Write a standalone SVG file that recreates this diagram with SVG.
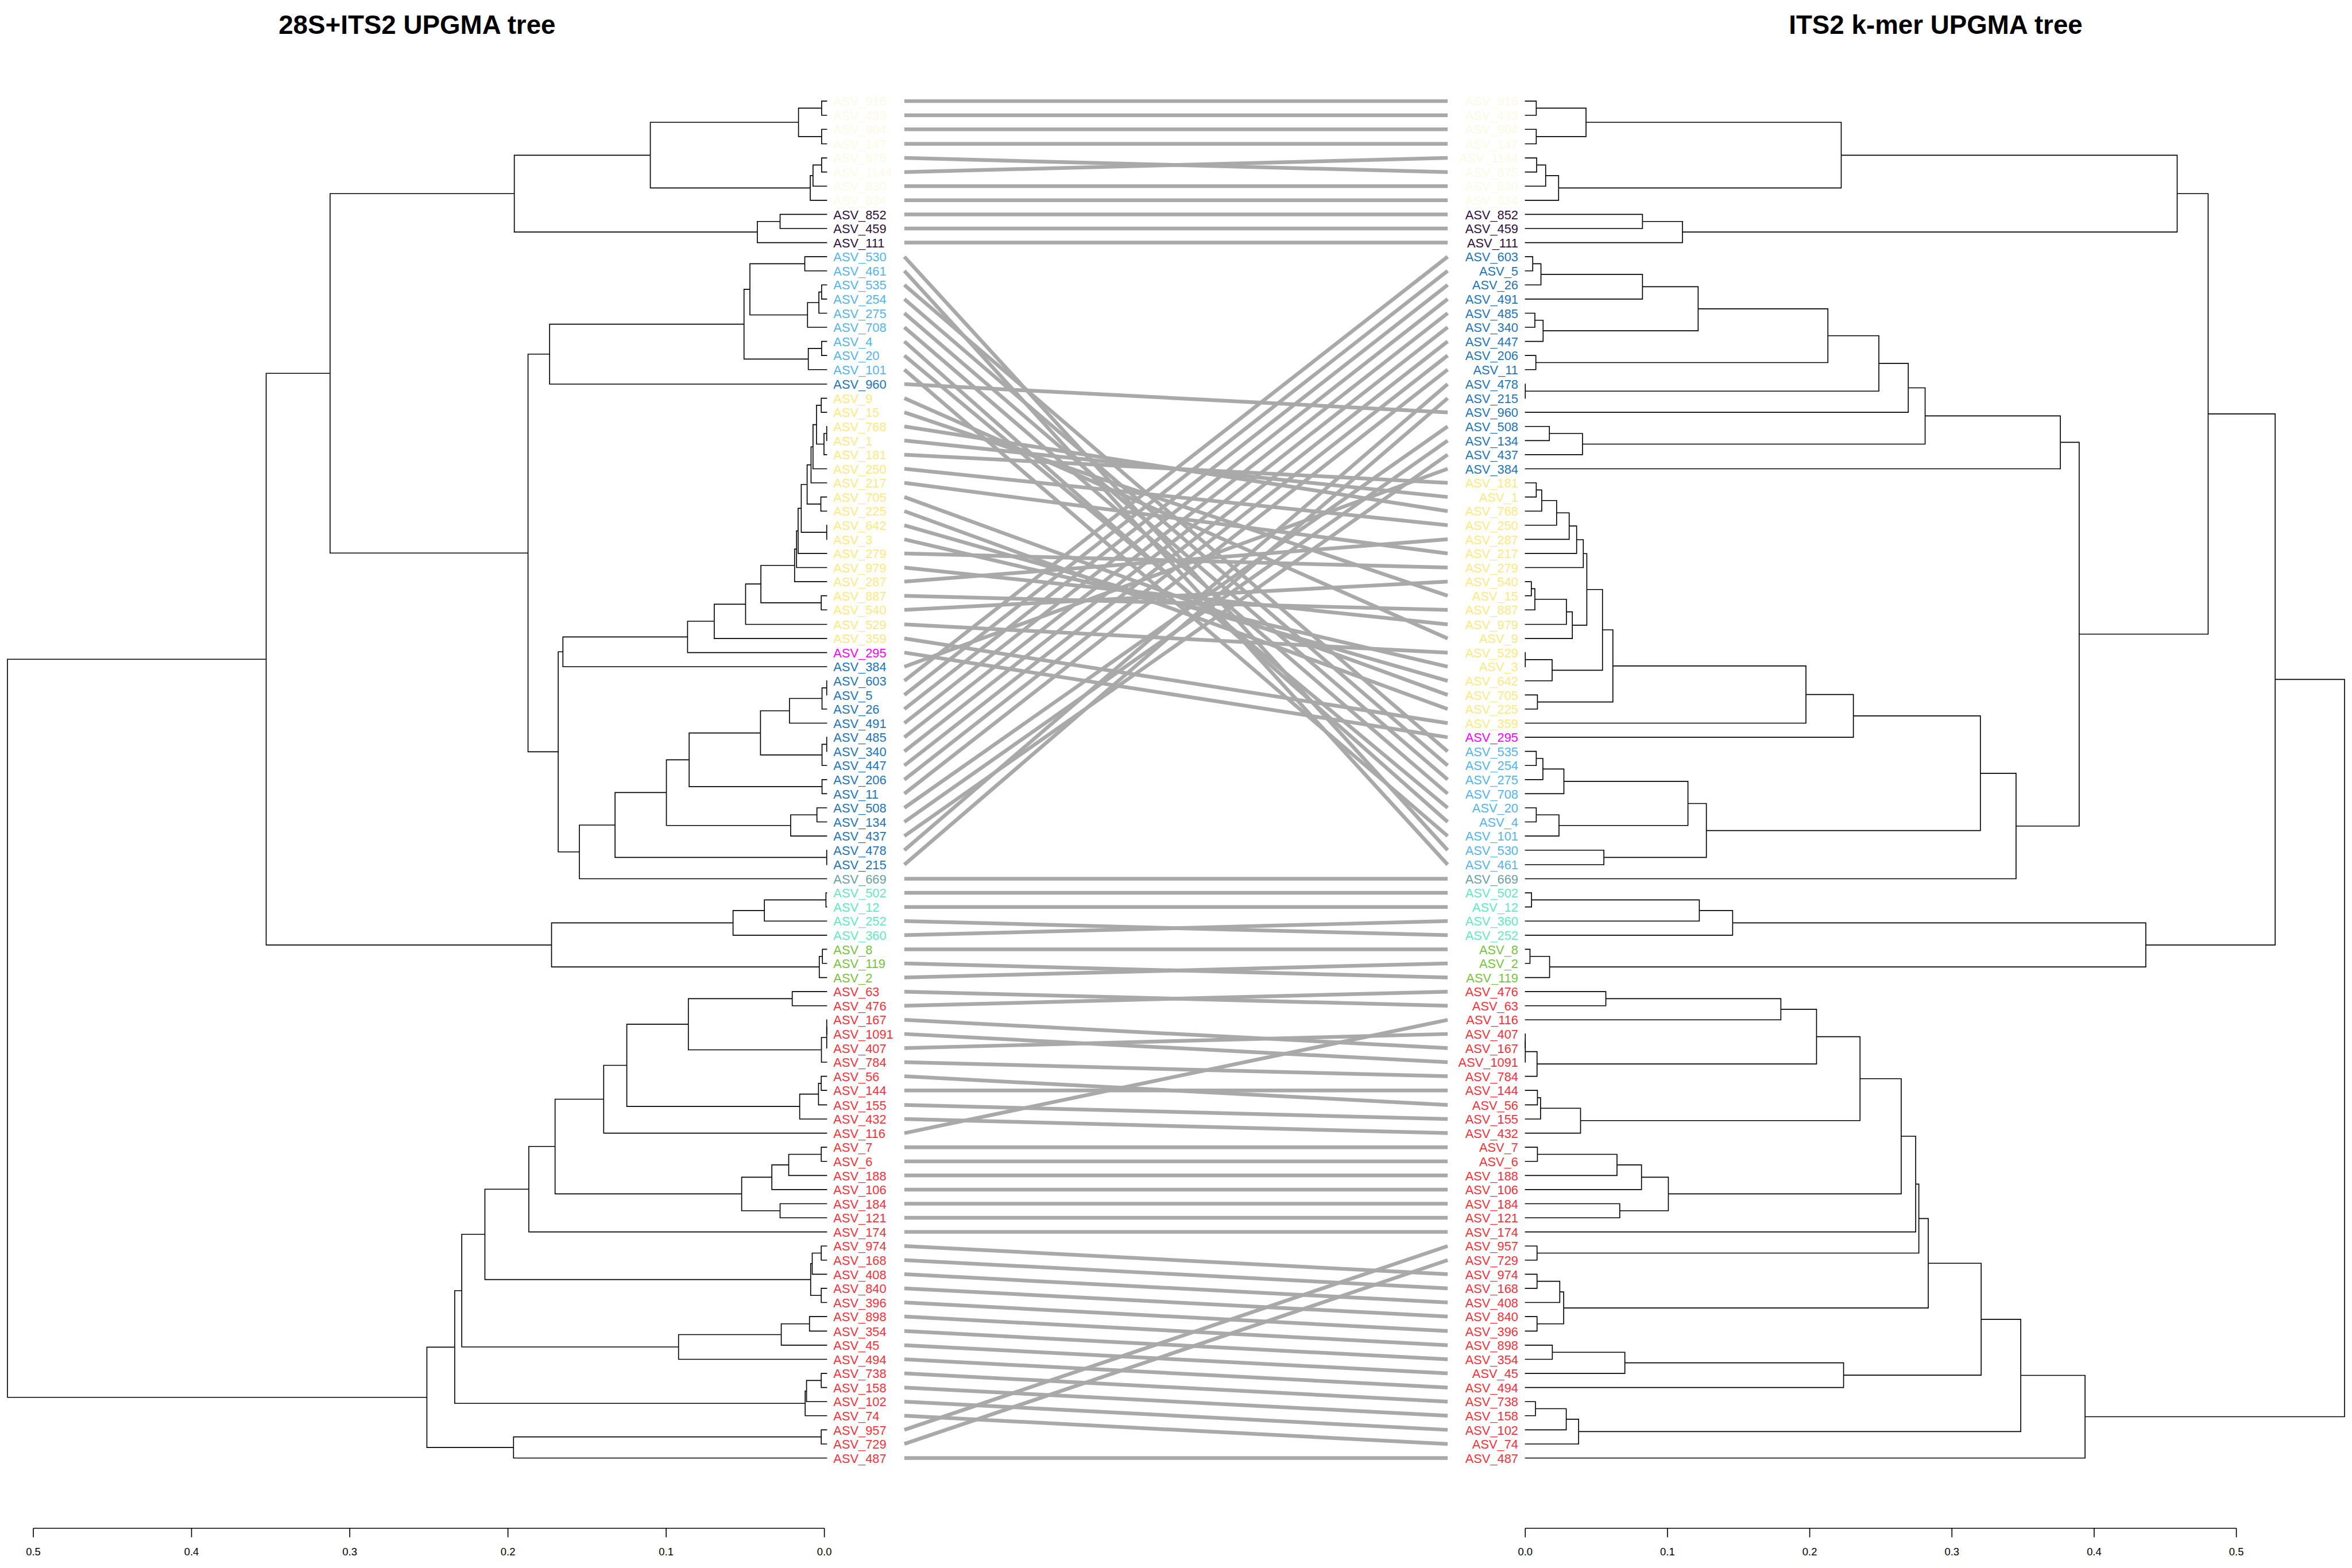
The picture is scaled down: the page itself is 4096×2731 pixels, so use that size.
<svg xmlns="http://www.w3.org/2000/svg" width="4096" height="2731" viewBox="0 0 4096 2731">
<style>
.t{fill:none;stroke:#000;stroke-width:2.4}
.c{stroke:#A9A9A9;stroke-width:9.5;fill:none}
.l{font-family:"Liberation Sans",Arial,sans-serif;font-size:32px}
.r{text-anchor:end}
.ax{font-family:"Liberation Sans",Arial,sans-serif;font-size:27px;text-anchor:middle}
.ti{font-family:"Liberation Sans",Arial,sans-serif;font-size:67px;font-weight:bold;text-anchor:middle}
.p{fill:#FAFBE4}.d{fill:#30103E}.lb{fill:#56B4E9}.db{fill:#2474B5}.y{fill:#FDE983}.m{fill:#FF00FF}.g2{fill:#6E9FA3}.tl{fill:#66E6C3}.gr{fill:#7AC143}.rd{fill:#F5323C}
</style>
<rect width="4096" height="2731" fill="#fff"/>
<g transform="scale(0.682667)">
<g id="titles">
<text class="ti" x="1064" y="87">28S+ITS2 UPGMA tree</text>
<text class="ti" x="4938" y="87">ITS2 k-mer UPGMA tree</text>
</g>
<g id="left-tree" class="t">
<path d="M2110 258H2096V294H2110"/>
<path d="M2110 330H2096V367H2110"/>
<path d="M2096 276H2037V348.5H2096"/>
<path d="M2110 403H2096V439H2110"/>
<path d="M2096 421H2074V475H2110"/>
<path d="M2074 448H2067V511H2110"/>
<path d="M2037 312H1659V479.5H2067"/>
<path d="M2110 547H1990V583H2110"/>
<path d="M1990 565H1932V619H2110"/>
<path d="M1659 396H1312V592H1932"/>
<path d="M2110 655H2053V691H2110"/>
<path d="M2110 727H2096V763H2110"/>
<path d="M2096 745H2089V799H2110"/>
<path d="M2089 772H2060V835H2110"/>
<path d="M2053 673H1913V803.5H2060"/>
<path d="M2110 871H2096V907H2110"/>
<path d="M2096 889H2062V943H2110"/>
<path d="M1913 738H1898V916H2062"/>
<path d="M1898 827H1402V980H2110"/>
<path d="M2110 1016H2095V1052H2110"/>
<path d="M2110 1088H2109V1124H2110"/>
<path d="M2109 1106H2102V1160H2110"/>
<path d="M2095 1034H2083V1133H2102"/>
<path d="M2083 1083.5H2074V1196H2110"/>
<path d="M2074 1140H2069V1232H2110"/>
<path d="M2110 1268H2094V1304H2110"/>
<path d="M2069 1186H2059V1286H2094"/>
<path d="M2110 1340H2109V1376H2110"/>
<path d="M2059 1236H2044V1358H2109"/>
<path d="M2044 1297H2036V1412H2110"/>
<path d="M2036 1354.5H2032V1448H2110"/>
<path d="M2032 1401H2027V1484H2110"/>
<path d="M2110 1520H2095V1556H2110"/>
<path d="M2027 1442.5H1941V1538H2095"/>
<path d="M1941 1490H1902V1593H2110"/>
<path d="M1902 1541.5H1822V1629H2110"/>
<path d="M1822 1585H1754V1665H2110"/>
<path d="M1754 1625H1436V1701H2110"/>
<path d="M2110 1737H2109V1773H2110"/>
<path d="M2109 1755H2097V1809H2110"/>
<path d="M2097 1782H2014V1845H2110"/>
<path d="M2110 1881H2109V1917H2110"/>
<path d="M2109 1899H2097V1953H2110"/>
<path d="M2014 1813.5H1940V1926H2097"/>
<path d="M2110 1989H2097V2025H2110"/>
<path d="M1940 1870H1758V2007H2097"/>
<path d="M2110 2061H2084V2097H2110"/>
<path d="M2084 2079H2017V2133H2110"/>
<path d="M1758 1938.5H1700V2106H2017"/>
<path d="M2110 2169H2109V2206H2110"/>
<path d="M1700 2022H1569V2187.5H2109"/>
<path d="M1569 2105H1478V2242H2110"/>
<path d="M1436 1663H1424V2173.5H1478"/>
<path d="M1402 903.5H1347V1918H1424"/>
<path d="M1312 494H842V1411H1347"/>
<path d="M2110 2278H2107V2314H2110"/>
<path d="M2107 2296H1950V2350H2110"/>
<path d="M1950 2323H1870V2386H2110"/>
<path d="M2110 2422H2098V2458H2110"/>
<path d="M2098 2440H2090V2494H2110"/>
<path d="M1870 2354.5H1407V2467H2090"/>
<path d="M842 952.5H679V2411H1407"/>
<path d="M2110 2530H2021V2566H2110"/>
<path d="M2110 2602H2109V2638H2110"/>
<path d="M2109 2620H2109V2674H2110"/>
<path d="M2109 2647H2095.5V2710H2110"/>
<path d="M2021 2548H1756V2678.5H2095.5"/>
<path d="M2110 2746H2095V2782H2110"/>
<path d="M2095 2764H2088V2819H2110"/>
<path d="M2088 2791.5H2040V2855H2110"/>
<path d="M1756 2613H1599V2823H2040"/>
<path d="M1599 2718H1540V2891H2110"/>
<path d="M2110 2927H2095V2963H2110"/>
<path d="M2095 2945H2012V2999H2110"/>
<path d="M2012 2972H1969V3035H2110"/>
<path d="M2110 3071H1990V3107H2110"/>
<path d="M1969 3003.5H1892V3089H1990"/>
<path d="M1540 2804.5H1416V3046H1892"/>
<path d="M1416 2925H1349V3143H2110"/>
<path d="M2110 3179H2095V3215H2110"/>
<path d="M2095 3197H2072V3251H2110"/>
<path d="M2110 3287H2095V3323H2110"/>
<path d="M2072 3224H2068V3305H2095"/>
<path d="M1349 3034H1237V3264.5H2068"/>
<path d="M2110 3359H2065V3396H2110"/>
<path d="M2065 3377.5H1993V3432H2110"/>
<path d="M1993 3405H1731V3468H2110"/>
<path d="M1237 3149H1178V3436.5H1731"/>
<path d="M2110 3504H2095V3540H2110"/>
<path d="M2095 3522H2057.5V3576H2110"/>
<path d="M2057.5 3549H2054V3612H2110"/>
<path d="M1178 3293H1160V3580.5H2054"/>
<path d="M2110 3648H2095V3684H2110"/>
<path d="M2095 3666H1310V3720H2110"/>
<path d="M1160 3437H1089V3693H1310"/>
<path d="M679 1682H19V3565H1089"/>
</g>
<g id="right-tree" class="t">
<path d="M3890 258H3919V294H3890"/>
<path d="M3890 330H3919V367H3890"/>
<path d="M3919 276H4046V348.5H3919"/>
<path d="M3890 403H3920V439H3890"/>
<path d="M3920 421H3943V475H3890"/>
<path d="M3943 448H3976V511H3890"/>
<path d="M4046 312H4697V479.5H3976"/>
<path d="M3890 547H4190V583H3890"/>
<path d="M4190 565H4292V619H3890"/>
<path d="M4697 396H5554V592H4292"/>
<path d="M3890 655H3910V691H3890"/>
<path d="M3910 673H3931V727H3890"/>
<path d="M3931 700H4190V763H3890"/>
<path d="M3890 799H3915.5V835H3890"/>
<path d="M3915.5 817H3936.5V871H3890"/>
<path d="M4190 731.5H4332V844H3936.5"/>
<path d="M3890 907H3918V943H3890"/>
<path d="M4332 788H4663V925H3918"/>
<path d="M3890 980H3891V1016H3890"/>
<path d="M4663 856.5H4793V998H3891"/>
<path d="M4793 927H4868V1052H3890"/>
<path d="M3890 1088H3952.5V1124H3890"/>
<path d="M3952.5 1106H4037V1160H3890"/>
<path d="M4868 989.5H4911V1133H4037"/>
<path d="M4911 1061H5256V1196H3890"/>
<path d="M3890 1232H3919V1268H3890"/>
<path d="M3919 1250H3933V1304H3890"/>
<path d="M3933 1277H3971V1340H3890"/>
<path d="M3971 1308.5H4003V1376H3890"/>
<path d="M4003 1342H4022V1412H3890"/>
<path d="M4022 1377H4039V1448H3890"/>
<path d="M3890 1484H3906.5V1520H3890"/>
<path d="M3906.5 1502H3915.5V1556H3890"/>
<path d="M3915.5 1529H3996V1593H3890"/>
<path d="M3996 1561H4011V1629H3890"/>
<path d="M4039 1412.5H4048V1595H4011"/>
<path d="M3890 1665H3891V1701H3890"/>
<path d="M3891 1683H3959.5V1737H3890"/>
<path d="M4048 1504H4088V1710H3959.5"/>
<path d="M3890 1773H3922V1809H3890"/>
<path d="M4088 1607H4114.5V1791H3922"/>
<path d="M4114.5 1699H4607V1845H3890"/>
<path d="M4607 1772H4728V1881H3890"/>
<path d="M3890 1917H3919V1953H3890"/>
<path d="M3919 1935H3936V1989H3890"/>
<path d="M3936 1962H3989.5V2025H3890"/>
<path d="M3890 2061H3919V2097H3890"/>
<path d="M3919 2079H3977V2133H3890"/>
<path d="M3989.5 1993.5H4306V2106H3977"/>
<path d="M3890 2169H4091.5V2206H3890"/>
<path d="M4306 2050H4353V2187.5H4091.5"/>
<path d="M4728 1826.5H5052V2119H4353"/>
<path d="M5052 1973H5143V2242H3890"/>
<path d="M5256 1128.5H5304V2107.5H5143"/>
<path d="M5554 494H5633V1618H5304"/>
<path d="M3890 2278H3907V2314H3890"/>
<path d="M3907 2296H4335V2350H3890"/>
<path d="M4335 2323H4420V2386H3890"/>
<path d="M3890 2422H3903V2458H3890"/>
<path d="M3903 2440H3953V2494H3890"/>
<path d="M4420 2354.5H5474V2467H3953"/>
<path d="M5633 1056H5804V2411H5474"/>
<path d="M3890 2530H4096.5V2566H3890"/>
<path d="M4096.5 2548H4543V2602H3890"/>
<path d="M3890 2638H3891V2674H3890"/>
<path d="M3891 2656H3891V2710H3890"/>
<path d="M3891 2683H3921V2746H3890"/>
<path d="M4543 2575H4634V2714.5H3921"/>
<path d="M3890 2782H3922V2819H3890"/>
<path d="M3922 2800.5H3930V2855H3890"/>
<path d="M3930 2827.5H4032V2891H3890"/>
<path d="M4634 2645H4745V2859H4032"/>
<path d="M3890 2927H3922V2963H3890"/>
<path d="M3922 2945H4125V2999H3890"/>
<path d="M4125 2972H4187.5V3035H3890"/>
<path d="M3890 3071H4132V3107H3890"/>
<path d="M4187.5 3003.5H4256V3089H4132"/>
<path d="M4745 2752H4850V3046H4256"/>
<path d="M4850 2899H4887V3143H3890"/>
<path d="M3890 3179H3921V3215H3890"/>
<path d="M4887 3021H4895V3197H3921"/>
<path d="M3890 3251H3921V3287H3890"/>
<path d="M3921 3269H3979V3323H3890"/>
<path d="M3890 3359H3921V3396H3890"/>
<path d="M3979 3296H3989V3377.5H3921"/>
<path d="M4895 3109H4919V3337H3989"/>
<path d="M3890 3432H3960V3468H3890"/>
<path d="M3960 3450H4145V3504H3890"/>
<path d="M4145 3477H4703V3540H3890"/>
<path d="M4919 3223H5054V3508.5H4703"/>
<path d="M3890 3576H3917V3612H3890"/>
<path d="M3917 3594H3995.5V3648H3890"/>
<path d="M3995.5 3621H4027V3684H3890"/>
<path d="M5054 3366H5155V3652.5H4027"/>
<path d="M5155 3509H5319V3720H3890"/>
<path d="M5804 1733.5H5981V3614.5H5319"/>
</g>
<g id="connectors" class="c">
<path d="M2307 258L3693 258"/><path d="M2307 294L3693 294"/><path d="M2307 330L3693 330"/><path d="M2307 367L3693 367"/>
<path d="M2307 403L3693 439"/><path d="M2307 439L3693 403"/><path d="M2307 475L3693 475"/><path d="M2307 511L3693 511"/>
<path d="M2307 547L3693 547"/><path d="M2307 583L3693 583"/><path d="M2307 619L3693 619"/>
<path d="M2307 655L3693 2169"/><path d="M2307 691L3693 2206"/><path d="M2307 727L3693 1917"/><path d="M2307 763L3693 1953"/>
<path d="M2307 799L3693 1989"/><path d="M2307 835L3693 2025"/><path d="M2307 871L3693 2097"/><path d="M2307 907L3693 2061"/>
<path d="M2307 943L3693 2133"/><path d="M2307 980L3693 1052"/>
<path d="M2307 1016L3693 1629"/><path d="M2307 1052L3693 1520"/><path d="M2307 1088L3693 1304"/><path d="M2307 1124L3693 1268"/>
<path d="M2307 1160L3693 1232"/><path d="M2307 1196L3693 1340"/><path d="M2307 1232L3693 1412"/><path d="M2307 1268L3693 1773"/>
<path d="M2307 1304L3693 1809"/><path d="M2307 1340L3693 1737"/><path d="M2307 1376L3693 1701"/><path d="M2307 1412L3693 1448"/>
<path d="M2307 1448L3693 1593"/><path d="M2307 1484L3693 1376"/><path d="M2307 1520L3693 1556"/><path d="M2307 1556L3693 1484"/>
<path d="M2307 1593L3693 1665"/><path d="M2307 1629L3693 1845"/><path d="M2307 1665L3693 1881"/><path d="M2307 1701L3693 1196"/>
<path d="M2307 1737L3693 655"/><path d="M2307 1773L3693 691"/><path d="M2307 1809L3693 727"/><path d="M2307 1845L3693 763"/>
<path d="M2307 1881L3693 799"/><path d="M2307 1917L3693 835"/><path d="M2307 1953L3693 871"/><path d="M2307 1989L3693 907"/>
<path d="M2307 2025L3693 943"/><path d="M2307 2061L3693 1088"/><path d="M2307 2097L3693 1124"/><path d="M2307 2133L3693 1160"/>
<path d="M2307 2169L3693 980"/><path d="M2307 2206L3693 1016"/><path d="M2307 2242L3693 2242"/>
<path d="M2307 2278L3693 2278"/><path d="M2307 2314L3693 2314"/><path d="M2307 2350L3693 2386"/><path d="M2307 2386L3693 2350"/>
<path d="M2307 2422L3693 2422"/><path d="M2307 2458L3693 2494"/><path d="M2307 2494L3693 2458"/>
<path d="M2307 2530L3693 2566"/><path d="M2307 2566L3693 2530"/><path d="M2307 2602L3693 2674"/><path d="M2307 2638L3693 2710"/>
<path d="M2307 2674L3693 2638"/><path d="M2307 2710L3693 2746"/><path d="M2307 2746L3693 2819"/><path d="M2307 2782L3693 2782"/>
<path d="M2307 2819L3693 2855"/><path d="M2307 2855L3693 2891"/><path d="M2307 2891L3693 2602"/>
<path d="M2307 2927L3693 2927"/><path d="M2307 2963L3693 2963"/><path d="M2307 2999L3693 2999"/><path d="M2307 3035L3693 3035"/>
<path d="M2307 3071L3693 3071"/><path d="M2307 3107L3693 3107"/><path d="M2307 3143L3693 3143"/>
<path d="M2307 3179L3693 3251"/><path d="M2307 3215L3693 3287"/><path d="M2307 3251L3693 3323"/><path d="M2307 3287L3693 3359"/>
<path d="M2307 3323L3693 3396"/><path d="M2307 3359L3693 3432"/><path d="M2307 3396L3693 3468"/><path d="M2307 3432L3693 3504"/>
<path d="M2307 3468L3693 3540"/><path d="M2307 3504L3693 3576"/><path d="M2307 3540L3693 3612"/><path d="M2307 3576L3693 3648"/>
<path d="M2307 3612L3693 3684"/><path d="M2307 3648L3693 3179"/><path d="M2307 3684L3693 3215"/><path d="M2307 3720L3693 3720"/>
</g>
<g id="left-labels" class="l">
<text class="p" x="2126" y="270">ASV_916</text>
<text class="p" x="2126" y="306">ASV_433</text>
<text class="p" x="2126" y="342">ASV_904</text>
<text class="p" x="2126" y="379">ASV_147</text>
<text class="p" x="2126" y="415">ASV_875</text>
<text class="p" x="2126" y="451">ASV_1144</text>
<text class="p" x="2126" y="487">ASV_830</text>
<text class="p" x="2126" y="523">ASV_834</text>
<text class="d" x="2126" y="559">ASV_852</text>
<text class="d" x="2126" y="595">ASV_459</text>
<text class="d" x="2126" y="631">ASV_111</text>
<text class="lb" x="2126" y="667">ASV_530</text>
<text class="lb" x="2126" y="703">ASV_461</text>
<text class="lb" x="2126" y="739">ASV_535</text>
<text class="lb" x="2126" y="775">ASV_254</text>
<text class="lb" x="2126" y="811">ASV_275</text>
<text class="lb" x="2126" y="847">ASV_708</text>
<text class="lb" x="2126" y="883">ASV_4</text>
<text class="lb" x="2126" y="919">ASV_20</text>
<text class="lb" x="2126" y="955">ASV_101</text>
<text class="db" x="2126" y="992">ASV_960</text>
<text class="y" x="2126" y="1028">ASV_9</text>
<text class="y" x="2126" y="1064">ASV_15</text>
<text class="y" x="2126" y="1100">ASV_768</text>
<text class="y" x="2126" y="1136">ASV_1</text>
<text class="y" x="2126" y="1172">ASV_181</text>
<text class="y" x="2126" y="1208">ASV_250</text>
<text class="y" x="2126" y="1244">ASV_217</text>
<text class="y" x="2126" y="1280">ASV_705</text>
<text class="y" x="2126" y="1316">ASV_225</text>
<text class="y" x="2126" y="1352">ASV_642</text>
<text class="y" x="2126" y="1388">ASV_3</text>
<text class="y" x="2126" y="1424">ASV_279</text>
<text class="y" x="2126" y="1460">ASV_979</text>
<text class="y" x="2126" y="1496">ASV_287</text>
<text class="y" x="2126" y="1532">ASV_887</text>
<text class="y" x="2126" y="1568">ASV_540</text>
<text class="y" x="2126" y="1605">ASV_529</text>
<text class="y" x="2126" y="1641">ASV_359</text>
<text class="m" x="2126" y="1677">ASV_295</text>
<text class="db" x="2126" y="1713">ASV_384</text>
<text class="db" x="2126" y="1749">ASV_603</text>
<text class="db" x="2126" y="1785">ASV_5</text>
<text class="db" x="2126" y="1821">ASV_26</text>
<text class="db" x="2126" y="1857">ASV_491</text>
<text class="db" x="2126" y="1893">ASV_485</text>
<text class="db" x="2126" y="1929">ASV_340</text>
<text class="db" x="2126" y="1965">ASV_447</text>
<text class="db" x="2126" y="2001">ASV_206</text>
<text class="db" x="2126" y="2037">ASV_11</text>
<text class="db" x="2126" y="2073">ASV_508</text>
<text class="db" x="2126" y="2109">ASV_134</text>
<text class="db" x="2126" y="2145">ASV_437</text>
<text class="db" x="2126" y="2181">ASV_478</text>
<text class="db" x="2126" y="2218">ASV_215</text>
<text class="g2" x="2126" y="2254">ASV_669</text>
<text class="tl" x="2126" y="2290">ASV_502</text>
<text class="tl" x="2126" y="2326">ASV_12</text>
<text class="tl" x="2126" y="2362">ASV_252</text>
<text class="tl" x="2126" y="2398">ASV_360</text>
<text class="gr" x="2126" y="2434">ASV_8</text>
<text class="gr" x="2126" y="2470">ASV_119</text>
<text class="gr" x="2126" y="2506">ASV_2</text>
<text class="rd" x="2126" y="2542">ASV_63</text>
<text class="rd" x="2126" y="2578">ASV_476</text>
<text class="rd" x="2126" y="2614">ASV_167</text>
<text class="rd" x="2126" y="2650">ASV_1091</text>
<text class="rd" x="2126" y="2686">ASV_407</text>
<text class="rd" x="2126" y="2722">ASV_784</text>
<text class="rd" x="2126" y="2758">ASV_56</text>
<text class="rd" x="2126" y="2794">ASV_144</text>
<text class="rd" x="2126" y="2831">ASV_155</text>
<text class="rd" x="2126" y="2867">ASV_432</text>
<text class="rd" x="2126" y="2903">ASV_116</text>
<text class="rd" x="2126" y="2939">ASV_7</text>
<text class="rd" x="2126" y="2975">ASV_6</text>
<text class="rd" x="2126" y="3011">ASV_188</text>
<text class="rd" x="2126" y="3047">ASV_106</text>
<text class="rd" x="2126" y="3083">ASV_184</text>
<text class="rd" x="2126" y="3119">ASV_121</text>
<text class="rd" x="2126" y="3155">ASV_174</text>
<text class="rd" x="2126" y="3191">ASV_974</text>
<text class="rd" x="2126" y="3227">ASV_168</text>
<text class="rd" x="2126" y="3263">ASV_408</text>
<text class="rd" x="2126" y="3299">ASV_840</text>
<text class="rd" x="2126" y="3335">ASV_396</text>
<text class="rd" x="2126" y="3371">ASV_898</text>
<text class="rd" x="2126" y="3408">ASV_354</text>
<text class="rd" x="2126" y="3444">ASV_45</text>
<text class="rd" x="2126" y="3480">ASV_494</text>
<text class="rd" x="2126" y="3516">ASV_738</text>
<text class="rd" x="2126" y="3552">ASV_158</text>
<text class="rd" x="2126" y="3588">ASV_102</text>
<text class="rd" x="2126" y="3624">ASV_74</text>
<text class="rd" x="2126" y="3660">ASV_957</text>
<text class="rd" x="2126" y="3696">ASV_729</text>
<text class="rd" x="2126" y="3732">ASV_487</text>
</g>
<g id="right-labels" class="l r">
<text class="p" x="3873" y="270">ASV_916</text>
<text class="p" x="3873" y="306">ASV_433</text>
<text class="p" x="3873" y="342">ASV_904</text>
<text class="p" x="3873" y="379">ASV_147</text>
<text class="p" x="3873" y="415">ASV_1144</text>
<text class="p" x="3873" y="451">ASV_875</text>
<text class="p" x="3873" y="487">ASV_830</text>
<text class="p" x="3873" y="523">ASV_834</text>
<text class="d" x="3873" y="559">ASV_852</text>
<text class="d" x="3873" y="595">ASV_459</text>
<text class="d" x="3873" y="631">ASV_111</text>
<text class="db" x="3873" y="667">ASV_603</text>
<text class="db" x="3873" y="703">ASV_5</text>
<text class="db" x="3873" y="739">ASV_26</text>
<text class="db" x="3873" y="775">ASV_491</text>
<text class="db" x="3873" y="811">ASV_485</text>
<text class="db" x="3873" y="847">ASV_340</text>
<text class="db" x="3873" y="883">ASV_447</text>
<text class="db" x="3873" y="919">ASV_206</text>
<text class="db" x="3873" y="955">ASV_11</text>
<text class="db" x="3873" y="992">ASV_478</text>
<text class="db" x="3873" y="1028">ASV_215</text>
<text class="db" x="3873" y="1064">ASV_960</text>
<text class="db" x="3873" y="1100">ASV_508</text>
<text class="db" x="3873" y="1136">ASV_134</text>
<text class="db" x="3873" y="1172">ASV_437</text>
<text class="db" x="3873" y="1208">ASV_384</text>
<text class="y" x="3873" y="1244">ASV_181</text>
<text class="y" x="3873" y="1280">ASV_1</text>
<text class="y" x="3873" y="1316">ASV_768</text>
<text class="y" x="3873" y="1352">ASV_250</text>
<text class="y" x="3873" y="1388">ASV_287</text>
<text class="y" x="3873" y="1424">ASV_217</text>
<text class="y" x="3873" y="1460">ASV_279</text>
<text class="y" x="3873" y="1496">ASV_540</text>
<text class="y" x="3873" y="1532">ASV_15</text>
<text class="y" x="3873" y="1568">ASV_887</text>
<text class="y" x="3873" y="1605">ASV_979</text>
<text class="y" x="3873" y="1641">ASV_9</text>
<text class="y" x="3873" y="1677">ASV_529</text>
<text class="y" x="3873" y="1713">ASV_3</text>
<text class="y" x="3873" y="1749">ASV_642</text>
<text class="y" x="3873" y="1785">ASV_705</text>
<text class="y" x="3873" y="1821">ASV_225</text>
<text class="y" x="3873" y="1857">ASV_359</text>
<text class="m" x="3873" y="1893">ASV_295</text>
<text class="lb" x="3873" y="1929">ASV_535</text>
<text class="lb" x="3873" y="1965">ASV_254</text>
<text class="lb" x="3873" y="2001">ASV_275</text>
<text class="lb" x="3873" y="2037">ASV_708</text>
<text class="lb" x="3873" y="2073">ASV_20</text>
<text class="lb" x="3873" y="2109">ASV_4</text>
<text class="lb" x="3873" y="2145">ASV_101</text>
<text class="lb" x="3873" y="2181">ASV_530</text>
<text class="lb" x="3873" y="2218">ASV_461</text>
<text class="g2" x="3873" y="2254">ASV_669</text>
<text class="tl" x="3873" y="2290">ASV_502</text>
<text class="tl" x="3873" y="2326">ASV_12</text>
<text class="tl" x="3873" y="2362">ASV_360</text>
<text class="tl" x="3873" y="2398">ASV_252</text>
<text class="gr" x="3873" y="2434">ASV_8</text>
<text class="gr" x="3873" y="2470">ASV_2</text>
<text class="gr" x="3873" y="2506">ASV_119</text>
<text class="rd" x="3873" y="2542">ASV_476</text>
<text class="rd" x="3873" y="2578">ASV_63</text>
<text class="rd" x="3873" y="2614">ASV_116</text>
<text class="rd" x="3873" y="2650">ASV_407</text>
<text class="rd" x="3873" y="2686">ASV_167</text>
<text class="rd" x="3873" y="2722">ASV_1091</text>
<text class="rd" x="3873" y="2758">ASV_784</text>
<text class="rd" x="3873" y="2794">ASV_144</text>
<text class="rd" x="3873" y="2831">ASV_56</text>
<text class="rd" x="3873" y="2867">ASV_155</text>
<text class="rd" x="3873" y="2903">ASV_432</text>
<text class="rd" x="3873" y="2939">ASV_7</text>
<text class="rd" x="3873" y="2975">ASV_6</text>
<text class="rd" x="3873" y="3011">ASV_188</text>
<text class="rd" x="3873" y="3047">ASV_106</text>
<text class="rd" x="3873" y="3083">ASV_184</text>
<text class="rd" x="3873" y="3119">ASV_121</text>
<text class="rd" x="3873" y="3155">ASV_174</text>
<text class="rd" x="3873" y="3191">ASV_957</text>
<text class="rd" x="3873" y="3227">ASV_729</text>
<text class="rd" x="3873" y="3263">ASV_974</text>
<text class="rd" x="3873" y="3299">ASV_168</text>
<text class="rd" x="3873" y="3335">ASV_408</text>
<text class="rd" x="3873" y="3371">ASV_840</text>
<text class="rd" x="3873" y="3408">ASV_396</text>
<text class="rd" x="3873" y="3444">ASV_898</text>
<text class="rd" x="3873" y="3480">ASV_354</text>
<text class="rd" x="3873" y="3516">ASV_45</text>
<text class="rd" x="3873" y="3552">ASV_494</text>
<text class="rd" x="3873" y="3588">ASV_738</text>
<text class="rd" x="3873" y="3624">ASV_158</text>
<text class="rd" x="3873" y="3660">ASV_102</text>
<text class="rd" x="3873" y="3696">ASV_74</text>
<text class="rd" x="3873" y="3732">ASV_487</text>
</g>
<g id="left-axis">
<path class="t" d="M85 3899H2103M85 3899V3922M488.6 3899V3922M892.2 3899V3922M1295.8 3899V3922M1699.4 3899V3922M2103 3899V3922"/>
<text class="ax" x="85" y="3968">0.5</text>
<text class="ax" x="488.6" y="3968">0.4</text>
<text class="ax" x="892.2" y="3968">0.3</text>
<text class="ax" x="1295.8" y="3968">0.2</text>
<text class="ax" x="1699.4" y="3968">0.1</text>
<text class="ax" x="2103" y="3968">0.0</text>
</g>
<g id="right-axis">
<path class="t" d="M3891 3899H5705M3891 3899V3922M4253.8 3899V3922M4616.6 3899V3922M4979.4 3899V3922M5342.2 3899V3922M5705 3899V3922"/>
<text class="ax" x="3891" y="3968">0.0</text>
<text class="ax" x="4253.8" y="3968">0.1</text>
<text class="ax" x="4616.6" y="3968">0.2</text>
<text class="ax" x="4979.4" y="3968">0.3</text>
<text class="ax" x="5342.2" y="3968">0.4</text>
<text class="ax" x="5705" y="3968">0.5</text>
</g>
</g>
</svg>
